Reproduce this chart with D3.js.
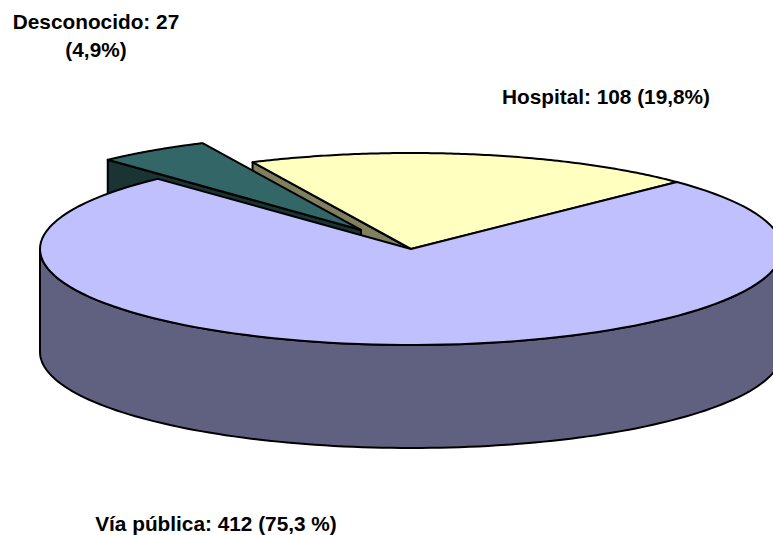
<!DOCTYPE html>
<html>
<head>
<meta charset="utf-8">
<script src="https://cdn.jsdelivr.net/npm/d3@7"></script>
<style>
  html, body { margin: 0; padding: 0; background: #fff; }
  svg { display: block; }
  text { font-family: "Liberation Sans", Arial, sans-serif; font-weight: bold; font-size: 20.8px; fill: #000; }
</style>
</head>
<body>
<svg id="chart" width="773" height="535"></svg>
<script>
const categories = ['Vía pública', 'Desconocido', 'Hospital'];
const values = [412, 27, 108];
const exploded = [0, 0.24, 0];
const topColors = ['#C0C0FF', '#336666', '#FFFFC0'];
const sideColors = ['#606080', '#1A3333', '#808060'];
const labels = [
  ['Vía pública: 412 (75,3 %)'],
  ['Desconocido: 27', '(4,9%)'],
  ['Hospital: 108 (19,8%)']
];

const cx = 411, cy = 249, rx = 371, ry = 96, depth = 103;
const labelPos = [[216, 531], [96, 29], [606, 104]];

const svg = d3.select('#chart');

// slices run clockwise from the top of the disc, Via publica first
const pie = d3.pie().sort(null)
  .startAngle(45.8 * Math.PI / 180)
  .endAngle((45.8 + 360) * Math.PI / 180);
const slices = pie(values).map((d, i) => {
  const mid = (d.startAngle + d.endAngle) / 2;
  return {
    ...d,
    i,
    ox: cx + exploded[i] * rx * Math.sin(mid),
    oy: cy - exploded[i] * ry * Math.cos(mid)
  };
});

const pt = (s, a, dz = 0) => [s.ox + rx * Math.sin(a), s.oy - ry * Math.cos(a) + dz];
const arcPts = (s, a0, a1, dz = 0) =>
  d3.range(0, 121).map(k => pt(s, a0 + (a1 - a0) * k / 120, dz));
const line = d3.line();

function drawShape(pts, fill) {
  svg.append('path')
    .attr('d', line(pts) + 'Z')
    .attr('fill', fill)
    .attr('stroke', '#000')
    .attr('stroke-width', 2)
    .attr('stroke-linejoin', 'round');
}

// side face along a slice's cut edge
function cutFace(s, a) {
  const p = pt(s, a);
  const p2 = pt(s, a, depth);
  drawShape([[s.ox, s.oy], p, p2, [s.ox, s.oy + depth]], sideColors[s.i]);
}

function topFace(s) {
  drawShape([[s.ox, s.oy], ...arcPts(s, s.startAngle, s.endAngle)], topColors[s.i]);
}

const [via, desconocido, hospital] = slices;

// painter's order, back to front
cutFace(hospital, hospital.startAngle);
topFace(hospital);

cutFace(desconocido, desconocido.startAngle);
topFace(desconocido);

// rim of the big slice, front half only
const rim = arcPts(via, Math.PI / 2, Math.PI * 3 / 2);
const rimLow = arcPts(via, Math.PI * 3 / 2, Math.PI / 2, depth);
drawShape([...rim, ...rimLow], sideColors[0]);
topFace(via);

svg.selectAll('text.label')
  .data(labels)
  .join('text')
  .attr('class', 'label')
  .attr('text-anchor', 'middle')
  .attr('x', (d, i) => labelPos[i][0])
  .attr('y', (d, i) => labelPos[i][1])
  .selectAll('tspan')
  .data((d, i) => d.map(t => ({ t, x: labelPos[i][0] })))
  .join('tspan')
  .attr('x', d => d.x)
  .attr('dy', (d, i) => i ? 28 : 0)
  .text(d => d.t);
</script>
</body>
</html>
